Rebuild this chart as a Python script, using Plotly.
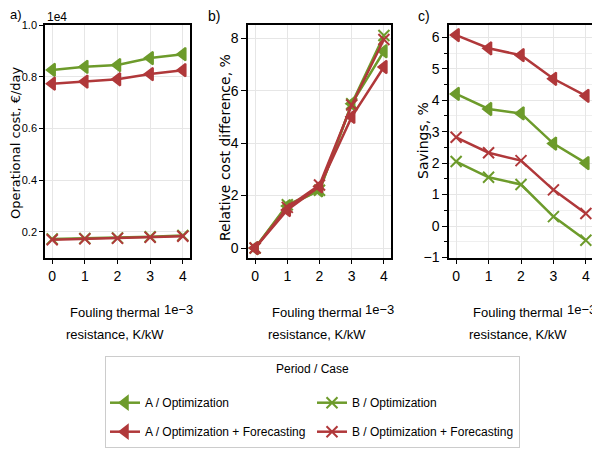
import numpy as np
import plotly.graph_objects as go
from plotly.subplots import make_subplots

# Fouling thermal resistance, K/kW
fouling = [0.0, 1e-3, 2e-3, 3e-3, 4e-3]

# a) Operational cost, EUR/day
cost_a_opt = [8260, 8380, 8450, 8720, 8870]
cost_a_fc = [7730, 7810, 7900, 8100, 8250]
cost_b_opt = [1720, 1740, 1760, 1800, 1850]
cost_b_fc = [1690, 1720, 1740, 1780, 1820]

# b) Relative cost difference, %
rel_a_opt = [0.0, 1.6, 2.2, 5.5, 7.5]
rel_a_fc = [0.0, 1.45, 2.35, 5.0, 6.9]
rel_b_opt = [0.0, 1.65, 2.2, 5.5, 8.1]
rel_b_fc = [0.0, 1.55, 2.4, 5.45, 7.95]

# c) Savings, %
sav_a_opt = [4.2, 3.72, 3.58, 2.62, 2.0]
sav_a_fc = [6.07, 5.65, 5.43, 4.68, 4.14]
sav_b_opt = [2.05, 1.55, 1.32, 0.3, -0.45]
sav_b_fc = [2.82, 2.33, 2.08, 1.15, 0.4]

GREEN = "#6d9b2b"
RED = "#b0383a"
NARROW = "Liberation Sans, sans-serif"

# the page has an 8px body margin, so the figure is made a bit smaller
W, H, OFF = 592, 442, 8


def px(v):
    return (v - OFF) / W


def py(v):
    return 1 - (v - OFF) / H


x = [f / 1e-3 for f in fouling]

series = [
    ("A / Optimization", GREEN, "triangle-left", cost_a_opt, rel_a_opt, sav_a_opt),
    ("B / Optimization", GREEN, "x-thin", cost_b_opt, rel_b_opt, sav_b_opt),
    ("A / Optimization + Forecasting", RED, "triangle-left", cost_a_fc, rel_a_fc, sav_a_fc),
    ("B / Optimization + Forecasting", RED, "x-thin", cost_b_fc, rel_b_fc, sav_b_fc),
]

fig = make_subplots(rows=1, cols=3)

for name, color, symbol, cost, rel, sav in series:
    marker = dict(symbol=symbol, size=11, color=color, line=dict(color=color, width=2))
    for col, vals in enumerate([np.array(cost) / 1e4, rel, sav], start=1):
        fig.add_trace(go.Scatter(x=x, y=vals, mode="lines+markers", name=name,
                                 line=dict(color=color, width=2.5), marker=marker,
                                 legendgroup=name, showlegend=(col == 1)),
                      row=1, col=col)

axis_style = dict(showline=True, mirror=True, linecolor="black", linewidth=1.5,
                  ticks="outside", ticklen=5, tickcolor="black", automargin=False,
                  gridcolor="#e6e6e6", gridwidth=1, zeroline=False,
                  tickfont=dict(family=NARROW, size=14, color="black"))

ydom = [py(257.5), py(25)]
xdoms = [[px(45), px(190)], [px(248), px(391)], [px(449), px(593)]]
for i, dom in enumerate(xdoms, start=1):
    fig.update_xaxes(domain=dom, range=[-0.22, 4.22], tickvals=[0, 1, 2, 3, 4],
                     row=1, col=i, **axis_style)
    fig.update_yaxes(domain=ydom, row=1, col=i, **axis_style)

fig.update_yaxes(range=[0.1, 1.0], tickvals=[0.2, 0.4, 0.6, 0.8, 1.0], tickformat=".1f",
                 tickfont=dict(size=11), ticklen=4, row=1, col=1)
fig.update_yaxes(range=[-0.36, 8.5], tickvals=[0, 2, 4, 6, 8], row=1, col=2)
fig.update_yaxes(range=[-1, 6.39], dtick=1, tick0=0,
                 minor=dict(dtick=0.5, ticks="outside", ticklen=3, tickcolor="black",
                            showgrid=True, gridcolor="#efefef"),
                 row=1, col=3)

annotations = []
# panel labels
for txt, lx, ly in [("a)", 8, 15), ("b)", 206, 16), ("c)", 416, 16)]:
    annotations.append(dict(text=txt, x=px(lx), y=py(ly), xref="paper", yref="paper",
                            xanchor="left", yanchor="middle", showarrow=False,
                            font=dict(family=NARROW, size=13 if txt == "a)" else 14, color="black")))
# y titles
for txt, lx, ly, fs in [("Operational cost, €/day", 15, 143, 13),
                        ("Relative cost difference, %", 225, 148, 14),
                        ("Savings, %", 423, 141, 14)]:
    annotations.append(dict(text=txt, x=px(lx), y=py(ly), xref="paper", yref="paper",
                            xanchor="center", yanchor="middle", textangle=-90, showarrow=False,
                            font=dict(family="DejaVu Sans", size=fs, color="black")))
# x titles (two lines) and offsets
for dom in xdoms:
    cx = (dom[0] + dom[1]) / 2 - 3 / W
    for line, ly in [("Fouling thermal", 312), ("resistance, K/kW", 334)]:
        annotations.append(dict(text=line, x=cx, y=py(ly), xref="paper", yref="paper",
                                xanchor="center", yanchor="middle", showarrow=False,
                                font=dict(family=NARROW, size=13, color="black")))
    annotations.append(dict(text="1e−3", x=dom[1] + 5 / W, y=py(309),
                            xref="paper", yref="paper", xanchor="right", yanchor="middle",
                            showarrow=False, font=dict(family=NARROW, size=13, color="black")))
annotations.append(dict(text="1e4", x=px(45), y=py(17), xref="paper", yref="paper",
                        xanchor="left", yanchor="middle", showarrow=False,
                        font=dict(family=NARROW, size=12, color="black")))

fig.update_layout(
    width=W, height=H,
    margin=dict(l=0, r=0, t=0, b=0),
    plot_bgcolor="white", paper_bgcolor="white",
    annotations=annotations,
    legend=dict(orientation="h", x=px(105), y=py(356), xanchor="left", yanchor="top",
                entrywidth=162, entrywidthmode="pixels", itemwidth=30,
                bordercolor="#cccccc", borderwidth=1, bgcolor="white",
                font=dict(family=NARROW, size=12, color="black"),
                title=dict(text="Period / Case<br> ", side="top center",
                           font=dict(family=NARROW, size=12, color="black"))),
)

fig.write_html("out.html")
